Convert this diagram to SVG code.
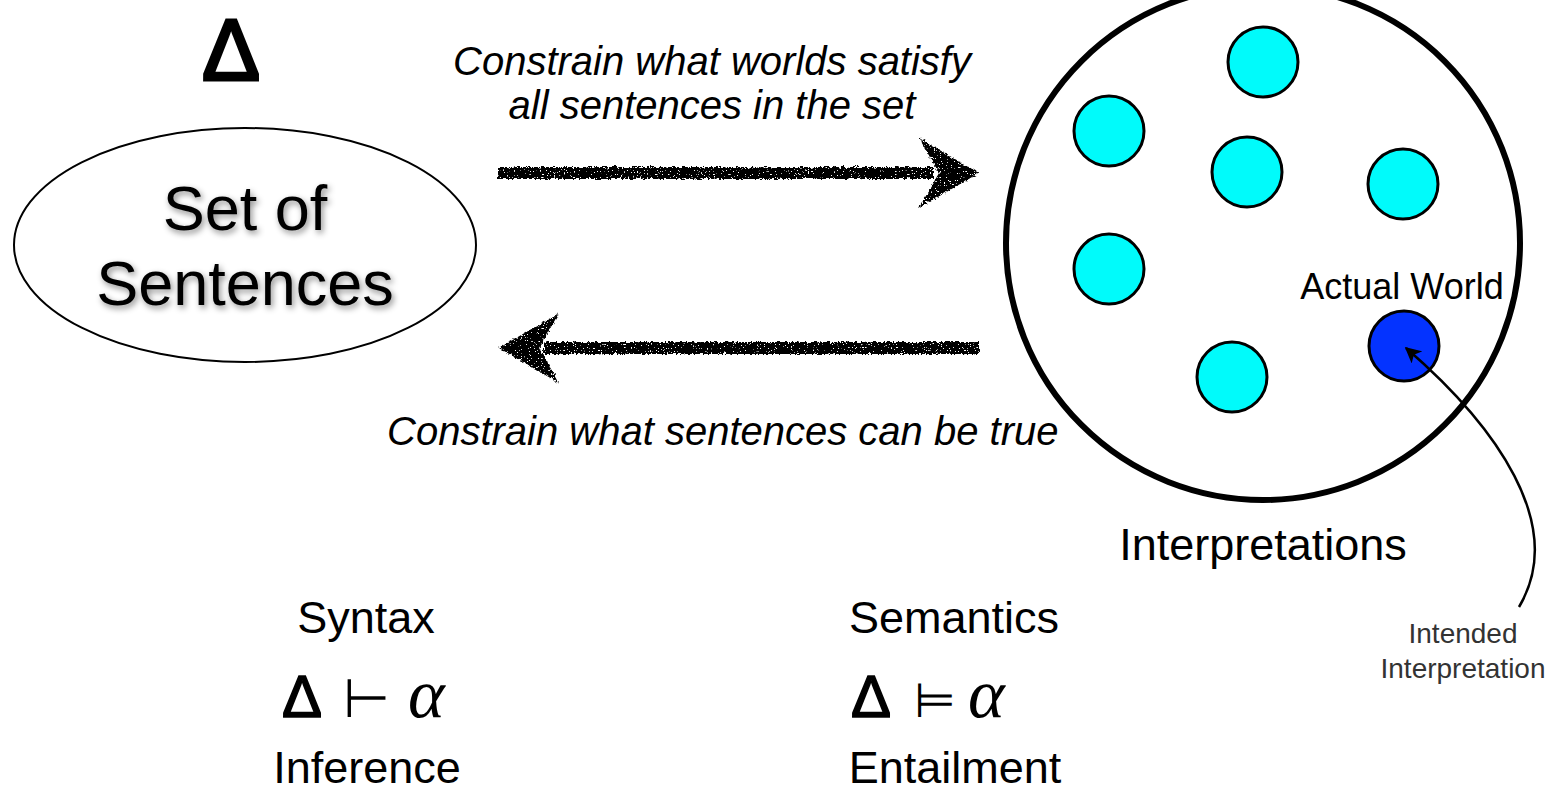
<svg xmlns="http://www.w3.org/2000/svg" width="1552" height="793" viewBox="0 0 1552 793">
  <defs>
    <style>
      .sans { font-family: "Liberation Sans", Arial, "DejaVu Sans", sans-serif; fill: #000; }
      .ital { font-family: "Liberation Sans", Arial, sans-serif; font-style: italic; font-size: 40px; fill: #000; }
      .label { font-family: "Liberation Sans", Arial, sans-serif; font-size: 45px; fill: #000; text-anchor: middle; }
      .tri { font-family: "Liberation Sans", Arial, sans-serif; fill: #000; stroke: #000; }
      .math { font-family: "DejaVu Sans", "Liberation Sans", sans-serif; fill: #000; }
      .greek { font-family: "Liberation Serif", "DejaVu Serif", serif; font-style: italic; font-size: 70px; fill: #000; }
      .note { font-family: "Liberation Sans", Arial, sans-serif; font-size: 28px; fill: #333; text-anchor: middle; }
      .world { fill: #00FBFB; stroke: #000; stroke-width: 3; }
      .actual { fill: #0433FF; stroke: #000; stroke-width: 3; }
      .chalk { fill: #000; }
    </style>
    <!-- rough chalk edge for the hand-drawn arrows -->
    <filter id="chalk" x="-5%" y="-60%" width="110%" height="220%">
      <feTurbulence type="turbulence" baseFrequency="0.22" numOctaves="2" seed="4" result="warp"/>
      <feDisplacementMap in="SourceGraphic" in2="warp" scale="4" xChannelSelector="R" yChannelSelector="G" result="rough"/>
      <feTurbulence type="fractalNoise" baseFrequency="0.7" numOctaves="2" seed="11" result="spk"/>
      <feColorMatrix in="spk" type="matrix" values="0 0 0 0 1  0 0 0 0 1  0 0 0 0 1  14 0 0 0 -9.4" result="holes"/>
      <feComposite in="holes" in2="rough" operator="in" result="specks"/>
      <feMerge>
        <feMergeNode in="rough"/>
        <feMergeNode in="specks"/>
      </feMerge>
    </filter>
    <!-- soft halo behind the ellipse title -->
    <filter id="halo" x="-20%" y="-30%" width="140%" height="160%">
      <feGaussianBlur in="SourceAlpha" stdDeviation="3"/>
      <feOffset dx="2" dy="3" result="b"/>
      <feFlood flood-color="#000" flood-opacity="0.45"/>
      <feComposite in2="b" operator="in" result="shadow"/>
      <feMerge>
        <feMergeNode in="shadow"/>
        <feMergeNode in="SourceGraphic"/>
      </feMerge>
    </filter>
    <marker id="tipBig" viewBox="0 0 10 10" refX="9" refY="5" markerWidth="18" markerHeight="16" orient="auto" markerUnits="userSpaceOnUse">
      <path d="M0,0 L10,5 L0,10 L2.5,5 Z" fill="#000"/>
    </marker>
  </defs>

  <rect width="1552" height="793" fill="#fff"/>

  <!-- knowledge base symbol -->
  <text id="delta" class="tri" x="231" y="80" font-size="87" stroke-width="3" text-anchor="middle">Δ</text>

  <!-- set of sentences -->
  <g id="sentences">
    <ellipse cx="245" cy="245" rx="231" ry="117" fill="#fff" stroke="#000" stroke-width="2"/>
    <g filter="url(#halo)">
      <text class="sans" x="245" y="230" font-size="63" text-anchor="middle">Set of</text>
      <text class="sans" x="245" y="305" font-size="63" text-anchor="middle">Sentences</text>
    </g>
  </g>

  <!-- space of interpretations -->
  <g id="interpretations">
    <circle cx="1263" cy="243" r="257" fill="none" stroke="#000" stroke-width="6"/>
    <text class="label" x="1263" y="560">Interpretations</text>
  </g>

  <g id="worlds">
    <circle class="world" cx="1263" cy="62" r="35"/>
    <circle class="world" cx="1109" cy="131" r="35"/>
    <circle class="world" cx="1247" cy="172" r="35"/>
    <circle class="world" cx="1403" cy="184" r="35"/>
    <circle class="world" cx="1109" cy="269" r="35"/>
    <circle class="world" cx="1232" cy="377" r="35"/>
  </g>

  <g id="actual-world">
    <circle class="actual" cx="1404" cy="346" r="35"/>
    <text class="sans" x="1402" y="299" font-size="36" text-anchor="middle">Actual World</text>
  </g>

  <g id="intended-label">
    <text class="note" x="1463" y="643">Intended</text>
    <text class="note" x="1463" y="678">Interpretation</text>
  </g>

  <!-- connectors -->
  <g id="connectors">
    <g filter="url(#chalk)">
      <!-- sentences to worlds -->
      <rect class="chalk" x="497" y="166" width="435" height="12"/>
      <path class="chalk" d="M918,137 L978,172 L918,207 L938,172 Z"/>
      <!-- worlds to sentences -->
      <rect class="chalk" x="543" y="341" width="435" height="12"/>
      <path class="chalk" d="M558,312 L498,347 L558,382 L538,347 Z"/>
    </g>
    <path d="M1519,607 C1568,525 1495,425 1406,348" fill="none" stroke="#000" stroke-width="2.5" marker-end="url(#tipBig)"/>
  </g>

  <!-- arrow captions -->
  <g id="captions">
    <text class="ital" x="712" y="75" text-anchor="middle">Constrain what worlds satisfy</text>
    <text class="ital" x="712" y="119" text-anchor="middle">all sentences in the set</text>
    <text class="ital" x="387" y="445">Constrain what sentences can be true</text>
  </g>

  <!-- syntax column -->
  <g id="syntax">
    <text class="label" x="366" y="633">Syntax</text>
    <text y="717"><tspan class="tri" x="282" font-size="60" stroke-width="1.5">Δ</tspan><tspan class="math" x="343" font-size="54">⊢</tspan><tspan class="greek" x="408">α</tspan></text>
    <text class="label" x="367" y="783">Inference</text>
  </g>

  <!-- semantics column -->
  <g id="semantics">
    <text class="label" x="954" y="633">Semantics</text>
    <text y="717"><tspan class="tri" x="851" font-size="60" stroke-width="1.5">Δ</tspan><tspan class="math" x="914" font-size="48">⊨</tspan><tspan class="greek" x="968">α</tspan></text>
    <text class="label" x="955" y="783">Entailment</text>
  </g>
</svg>
